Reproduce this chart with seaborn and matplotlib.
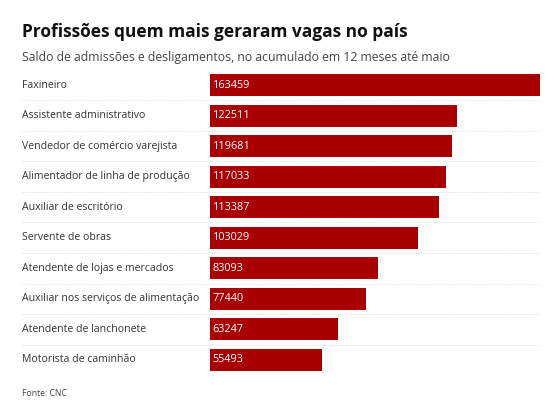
import pandas as pd
import seaborn as sns
import matplotlib.pyplot as plt
import matplotlib.transforms as mtransforms

OCCUPATIONS = [
    "Faxineiro",
    "Assistente administrativo",
    "Vendedor de comércio varejista",
    "Alimentador de linha de produção",
    "Auxiliar de escritório",
    "Servente de obras",
    "Atendente de lojas e mercados",
    "Auxiliar nos serviços de alimentação",
    "Atendente de lanchonete",
    "Motorista de caminhão",
]
BALANCE = [163459, 122511, 119681, 117033, 113387, 103029, 83093, 77440, 63247, 55493]

BAR_COLOR = "#a80000"
FONT = ["Open Sans", "DejaVu Sans"]

sns.set_theme(style="white")
plt.rcParams["font.family"] = FONT

df = pd.DataFrame({"occupation": OCCUPATIONS, "balance": BALANCE})

fig = plt.figure(figsize=(5.59, 4.16), dpi=100)
ax = fig.add_axes([0.3757, 0.098, 0.5903, 0.7343])

sns.barplot(data=df, x="balance", y="occupation", color=BAR_COLOR,
            saturation=1, width=0.72, ax=ax, edgecolor="none")

ax.set_xlim(0, max(BALANCE))
ax.set_ylim(len(OCCUPATIONS) - 0.5, -0.5)
ax.axis("off")

blend = mtransforms.blended_transform_factory(fig.transFigure, ax.transData)
for i, (name, val) in enumerate(zip(OCCUPATIONS, BALANCE)):
    ax.text(22 / 559, i, name, transform=blend, ha="left", va="center",
            fontsize=7.6, color="#333333")
    ax.text(max(BALANCE) * 0.008, i, str(val), ha="left",
            va="center", fontsize=7.8, color="white")
    if i < len(OCCUPATIONS) - 1:
        ax.plot([22 / 559, 540 / 559], [i + 0.5, i + 0.5], transform=blend,
                color="#dcdcdc", linestyle=(0, (1, 1.5)), linewidth=0.7,
                clip_on=False)

fig.text(22 / 559, 1 - 32 / 416, "Profissões quem mais geraram vagas no país",
         ha="left", va="center", fontsize=12.5, fontweight="bold",
         color="#111111")
fig.text(22 / 559, 1 - 58 / 416,
         "Saldo de admissões e desligamentos, no acumulado em 12 meses até maio",
         ha="left", va="center", fontsize=8.8, color="#444444")
fig.text(22 / 559, 1 - 393 / 416, "Fonte: CNC", ha="left", va="center",
         fontsize=6.2, color="#444444")

fig.savefig("out.png", dpi=100)
